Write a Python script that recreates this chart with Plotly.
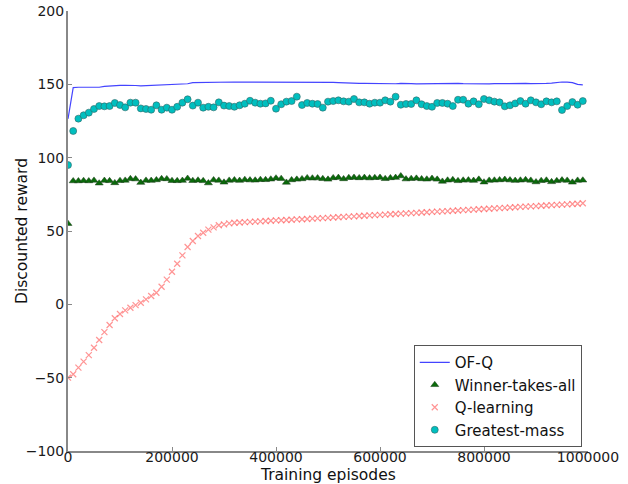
import plotly.graph_objects as go

episodes = list(range(0, 1000000, 10000))

ofq = [126.5, 147.8, 148.0, 147.9, 147.7, 147.6, 148.0, 148.6, 149.0, 149.2,
       149.3, 149.3, 149.4, 149.2, 149.0, 149.1, 149.3, 149.5, 149.6, 149.6,
       149.7, 149.7, 149.9, 150.4, 151.2, 151.3, 151.3, 151.4, 151.6, 151.7,
       151.8, 151.7, 151.6, 151.5, 151.5, 151.6, 151.7, 151.6, 151.5, 151.6,
       151.8, 151.7, 151.6, 151.5, 151.6, 151.7, 151.6, 151.5, 151.5, 151.4,
       151.4, 151.3, 151.2, 151.0, 150.9, 150.8, 150.7, 150.7, 150.6, 150.5,
       150.4, 150.6, 150.5, 150.4, 150.6, 150.7, 150.5, 150.3, 150.4, 150.5,
       150.6, 150.4, 150.3, 150.5, 150.6, 150.7, 150.5, 150.4, 150.5, 150.6,
       150.4, 150.3, 150.5, 150.6, 150.4, 150.3, 150.4, 150.5, 150.6, 150.5,
       150.4, 150.5, 150.6, 150.8, 151.4, 151.6, 151.5, 151.2, 150.0, 149.6]

wta = [55.0, 84.1, 84.1, 84.3, 84.1, 84.5, 82.6, 84.4, 84.2, 82.8,
       84.3, 84.5, 85.6, 85.4, 83.0, 84.5, 84.4, 84.8, 85.6, 85.5,
       84.3, 84.2, 84.4, 85.8, 84.3, 84.6, 84.2, 82.7, 84.8, 84.5,
       83.2, 84.5, 84.8, 84.4, 85.0, 84.7, 84.6, 85.0, 84.9, 85.3,
       86.0, 85.7, 83.1, 84.8, 85.2, 85.5, 86.2, 86.0, 86.1, 85.6,
       85.2, 86.2, 86.4, 85.5, 86.3, 86.5, 86.2, 86.4, 86.1, 86.3,
       86.5, 85.6, 86.2, 86.4, 87.5, 85.4, 85.7, 85.9, 85.5, 85.3,
       85.8, 85.2, 83.8, 84.6, 84.9, 84.2, 84.6, 84.7, 84.4, 85.2,
       83.3, 84.5, 84.6, 84.8, 85.1, 84.7, 84.4, 84.6, 84.9, 84.5,
       83.4, 84.3, 84.6, 83.5, 84.2, 84.7, 84.5, 83.2, 84.5, 84.6]

qlearn = [-50.0, -47.7, -43.2, -39.1, -34.6, -29.6, -24.3, -18.9, -14.1, -9.5,
          -6.6, -4.1, -2.3, -0.5, 1.1, 3.4, 5.7, 7.9, 12.0, 16.8,
          22.2, 27.7, 33.4, 39.1, 43.2, 46.6, 48.8, 50.9, 52.5, 53.9,
          54.5, 55.2, 55.6, 55.8, 56.0, 56.2, 56.4, 56.6, 56.8, 57.0,
          57.2, 57.3, 57.5, 57.7, 57.9, 58.0, 58.2, 58.4, 58.6, 58.8,
          59.0, 59.2, 59.4, 59.6, 59.8, 60.0, 60.2, 60.4, 60.6, 60.8,
          61.0, 61.2, 61.4, 61.6, 61.8, 62.0, 62.2, 62.4, 62.6, 62.8,
          63.0, 63.2, 63.4, 63.6, 63.8, 64.0, 64.2, 64.4, 64.6, 64.8,
          65.0, 65.2, 65.4, 65.6, 65.8, 66.0, 66.2, 66.4, 66.6, 66.8,
          67.0, 67.2, 67.4, 67.6, 67.8, 68.0, 68.2, 68.4, 68.6, 68.9]

gmass = [95.0, 118.2, 126.6, 128.9, 130.7, 133.2, 135.2, 135.0, 135.2, 137.3,
         135.9, 134.3, 137.5, 137.5, 133.6, 133.2, 132.7, 135.7, 132.7, 134.1,
         132.7, 134.7, 137.5, 139.8, 135.5, 137.5, 134.1, 134.7, 134.3, 137.7,
         135.5, 135.2, 134.7, 135.7, 136.8, 138.8, 137.5, 136.8, 137.0, 138.8,
         133.4, 136.4, 138.2, 138.6, 141.6, 135.9, 137.3, 136.8, 136.6, 134.1,
         138.2, 138.6, 139.1, 138.4, 138.2, 140.0, 137.7, 137.7, 136.8, 137.5,
         137.5, 139.1, 138.2, 141.6, 136.1, 136.6, 136.6, 139.1, 136.4, 135.2,
         134.7, 137.3, 137.3, 136.8, 135.2, 139.5, 139.5, 136.8, 138.4, 136.4,
         140.0, 139.1, 138.2, 137.7, 135.0, 135.7, 137.0, 138.6, 136.8, 139.1,
         137.7, 136.4, 138.4, 137.7, 138.4, 132.5, 135.2, 137.9, 136.1, 138.6]

xticks = [0, 200000, 400000, 600000, 800000, 1000000]
yticks = [-100, -50, 0, 50, 100, 150, 200]

font = "DejaVu Sans"
fig = go.Figure()
fig.add_trace(go.Scatter(x=episodes, y=ofq, mode="lines", name="OF-Q",
                         line=dict(color="#4444ff", width=1.2)))
fig.add_trace(go.Scatter(x=episodes, y=wta, mode="markers", name="Winner-takes-all",
                         marker=dict(symbol="triangle-up", size=7, color="#0a6b0a",
                                     line=dict(color="#1a3a1a", width=0.5))))
fig.add_trace(go.Scatter(x=episodes, y=qlearn, mode="markers", name="Q-learning",
                         marker=dict(symbol="x-thin-open", size=6, color="rgba(255,90,90,0.65)",
                                     line=dict(color="rgba(255,90,90,0.65)", width=1.2))))
fig.add_trace(go.Scatter(x=episodes, y=gmass, mode="markers", name="Greatest-mass",
                         marker=dict(symbol="circle", size=7, color="#00bfbf",
                                     line=dict(color="#336666", width=0.6))))

axis_common = dict(showgrid=False, zeroline=False, showline=True, linecolor="#888888",
                   linewidth=2, ticks="inside", ticklen=4, tickcolor="#888888",
                   tickfont=dict(family=font, size=14, color="#1a1a1a"),
                   mirror=False, automargin=False)
fig.update_xaxes(range=[0, 1000000], tickvals=xticks, ticktext=[str(v) for v in xticks],
                 ticklabelstandoff=-8, **axis_common)
fig.update_yaxes(range=[-100, 200], tickvals=yticks,
                 ticktext=[("\u2212" + str(-v)) if v < 0 else str(v) for v in yticks],
                 ticklabelstandoff=-1, **axis_common)
fig.update_layout(
    width=628, height=484,
    margin=dict(l=68, r=40, t=11, b=33, autoexpand=False),
    paper_bgcolor="white", plot_bgcolor="white",
    showlegend=True,
    legend=dict(x=0.988, y=0.009, xanchor="right", yanchor="bottom",
                bgcolor="white", bordercolor="#555555", borderwidth=1,
                font=dict(family=font, size=15, color="#111111"),
                itemwidth=30, tracegroupgap=0),
    annotations=[
        dict(text="Training episodes", xref="paper", yref="paper", x=0.5, y=0,
             xanchor="center", yanchor="top", yshift=-13, showarrow=False,
             font=dict(family=font, size=15.5, color="#111111")),
        dict(text="Discounted reward", xref="paper", yref="paper", x=0, y=0.5,
             xanchor="center", yanchor="middle", xshift=-46, textangle=-90, showarrow=False,
             font=dict(family=font, size=15.5, color="#111111")),
    ],
)
fig.write_html("out.html", config={"displayModeBar": False},
               post_script="document.body.style.margin='0';document.body.style.overflow='hidden';")
